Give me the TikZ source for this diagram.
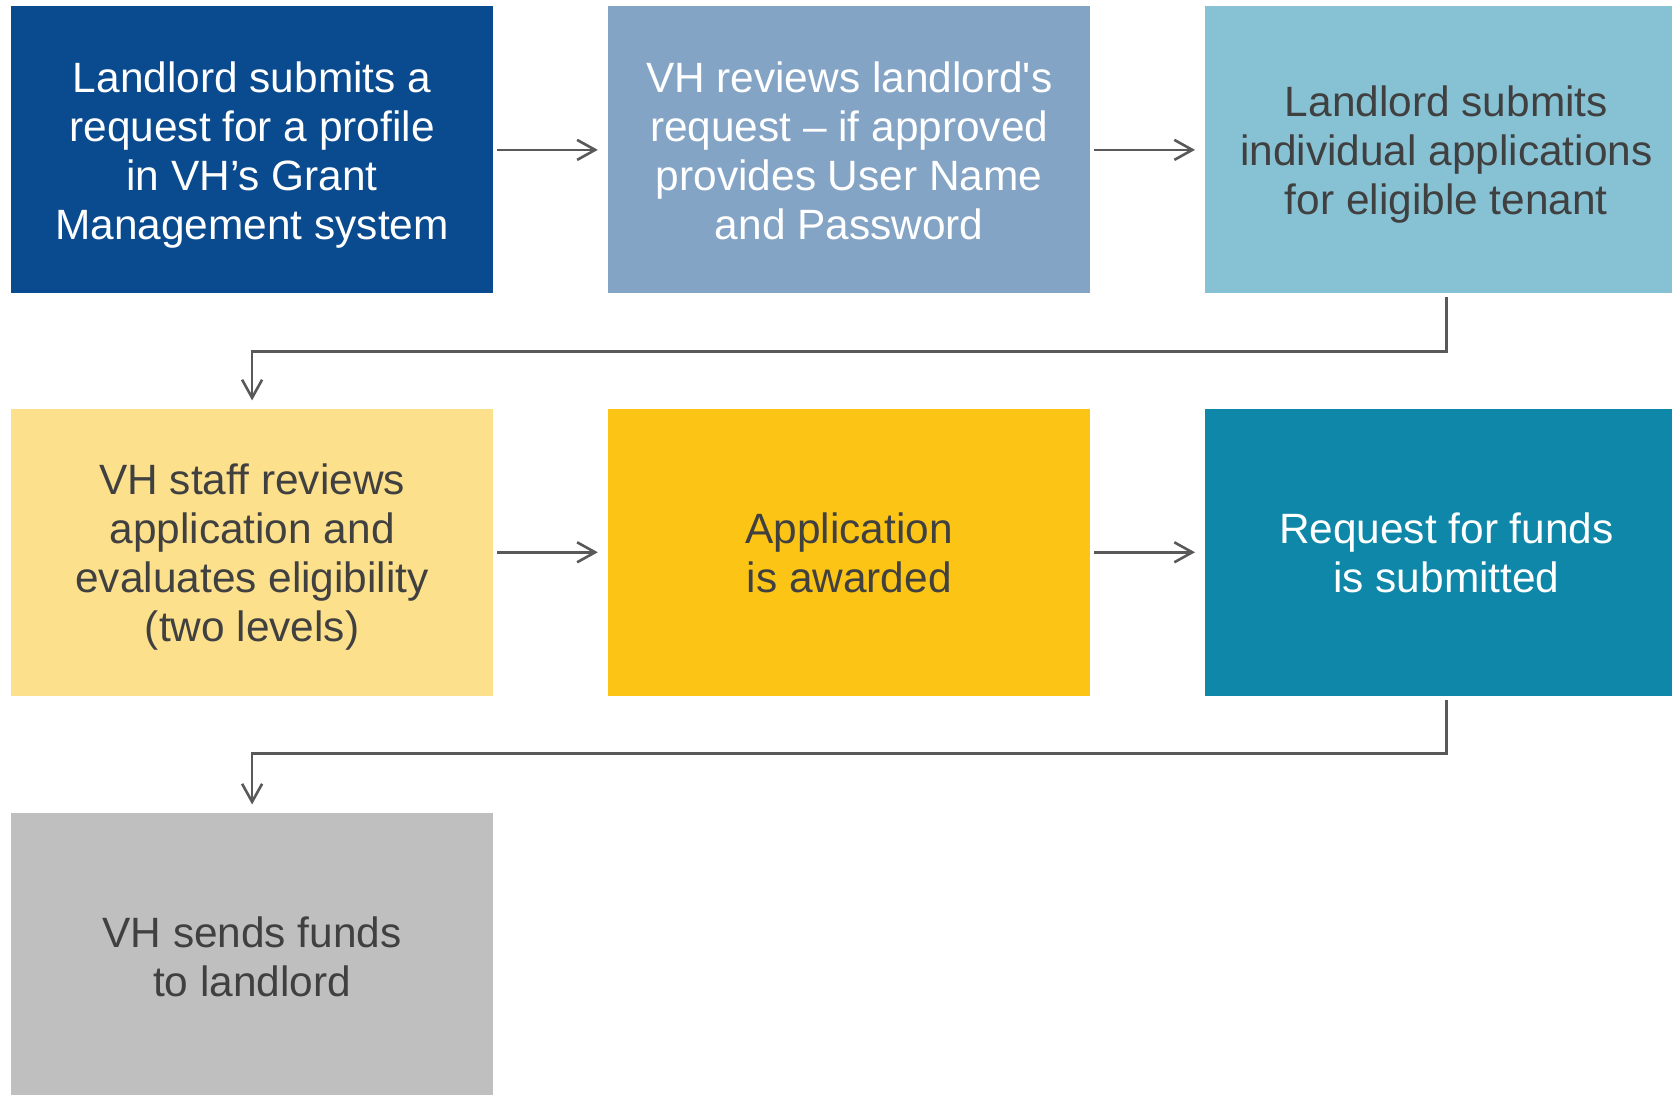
\documentclass[tikz,border=0pt]{standalone}
\usepackage{fontspec}
\setmainfont{Liberation Sans}[Ligatures=TeXOff]
\usetikzlibrary{arrows.meta}
\definecolor{cA}{HTML}{0A4A8E}
\definecolor{cB}{HTML}{84A4C6}
\definecolor{cC}{HTML}{87C2D4}
\definecolor{cD}{HTML}{FCE08C}
\definecolor{cE}{HTML}{FCC515}
\definecolor{cF}{HTML}{0E87A8}
\definecolor{cG}{HTML}{BFBFBF}
\definecolor{txtdark}{HTML}{404040}
\definecolor{linegray}{HTML}{595959}
\newcommand\sx{\rule[-4.5pt]{0pt}{20pt}}
\tikzset{
  box/.style={anchor=north west, minimum width=241pt, minimum height=143.5pt, inner sep=0pt},
  txt/.style={align=center, inner sep=0pt, yshift=-2.5pt, font=\fontsize{21.2pt}{24.5pt}\selectfont},
  light/.style={txt, text=txtdark},
  dark/.style={txt, text=white},
  arr/.style={draw=linegray, line width=1.3pt, -{Straight Barb[length=9pt,width=10pt]}}
}
\begin{document}
\begin{tikzpicture}[x=0.5pt,y=-0.5pt]
\clip (0,0) rectangle (1672,1095);
\useasboundingbox (0,0) rectangle (1672,1095);
\node[box,fill=cA,label={[dark]center:\sx Landlord submits a\\request for a profile\\in VH’s Grant\\Management system\sx}] (b1) at (10.7,6) {};
\node[box,fill=cB,label={[dark]center:\sx VH reviews landlord's\\request – if approved\\provides User Name\\and Password\sx}] (b2) at (607.8,6) {};
\node[box,fill=cC,label={[light]center:\sx Landlord submits\\individual applications\\for eligible tenant\sx}] (b3) at (1205,6) {};
\node[box,fill=cD,label={[light]center:\sx VH staff reviews\\application and\\evaluates eligibility\\(two levels)\sx}] (b4) at (10.7,408.4) {};
\node[box,fill=cE,label={[light]center:\sx Application\\is awarded\sx}] (b5) at (607.8,408.4) {};
\node[box,fill=cF,label={[dark]center:\sx Request for funds\\is submitted\sx}] (b6) at (1205,408.4) {};
\node[box,fill=cG,label={[light]center:\sx VH sends funds\\to landlord\sx}] (b7) at (10.7,812.5) {};
\draw[arr, shorten <=1.75pt, shorten >=5pt] (b1.east) -- (b2.west);
\draw[arr, shorten <=1.75pt, shorten >=5pt] (b2.east) -- (b3.west);
\draw[arr, shorten <=1.75pt, shorten >=4pt] (b3.south) -- ++(0,57.5) -| (b4.north);
\draw[arr, shorten <=1.75pt, shorten >=5pt] (b4.east) -- (b5.west);
\draw[arr, shorten <=1.75pt, shorten >=5pt] (b5.east) -- (b6.west);
\draw[arr, shorten <=1.75pt, shorten >=4pt] (b6.south) -- ++(0,57.5) -| (b7.north);
\end{tikzpicture}
\end{document}
